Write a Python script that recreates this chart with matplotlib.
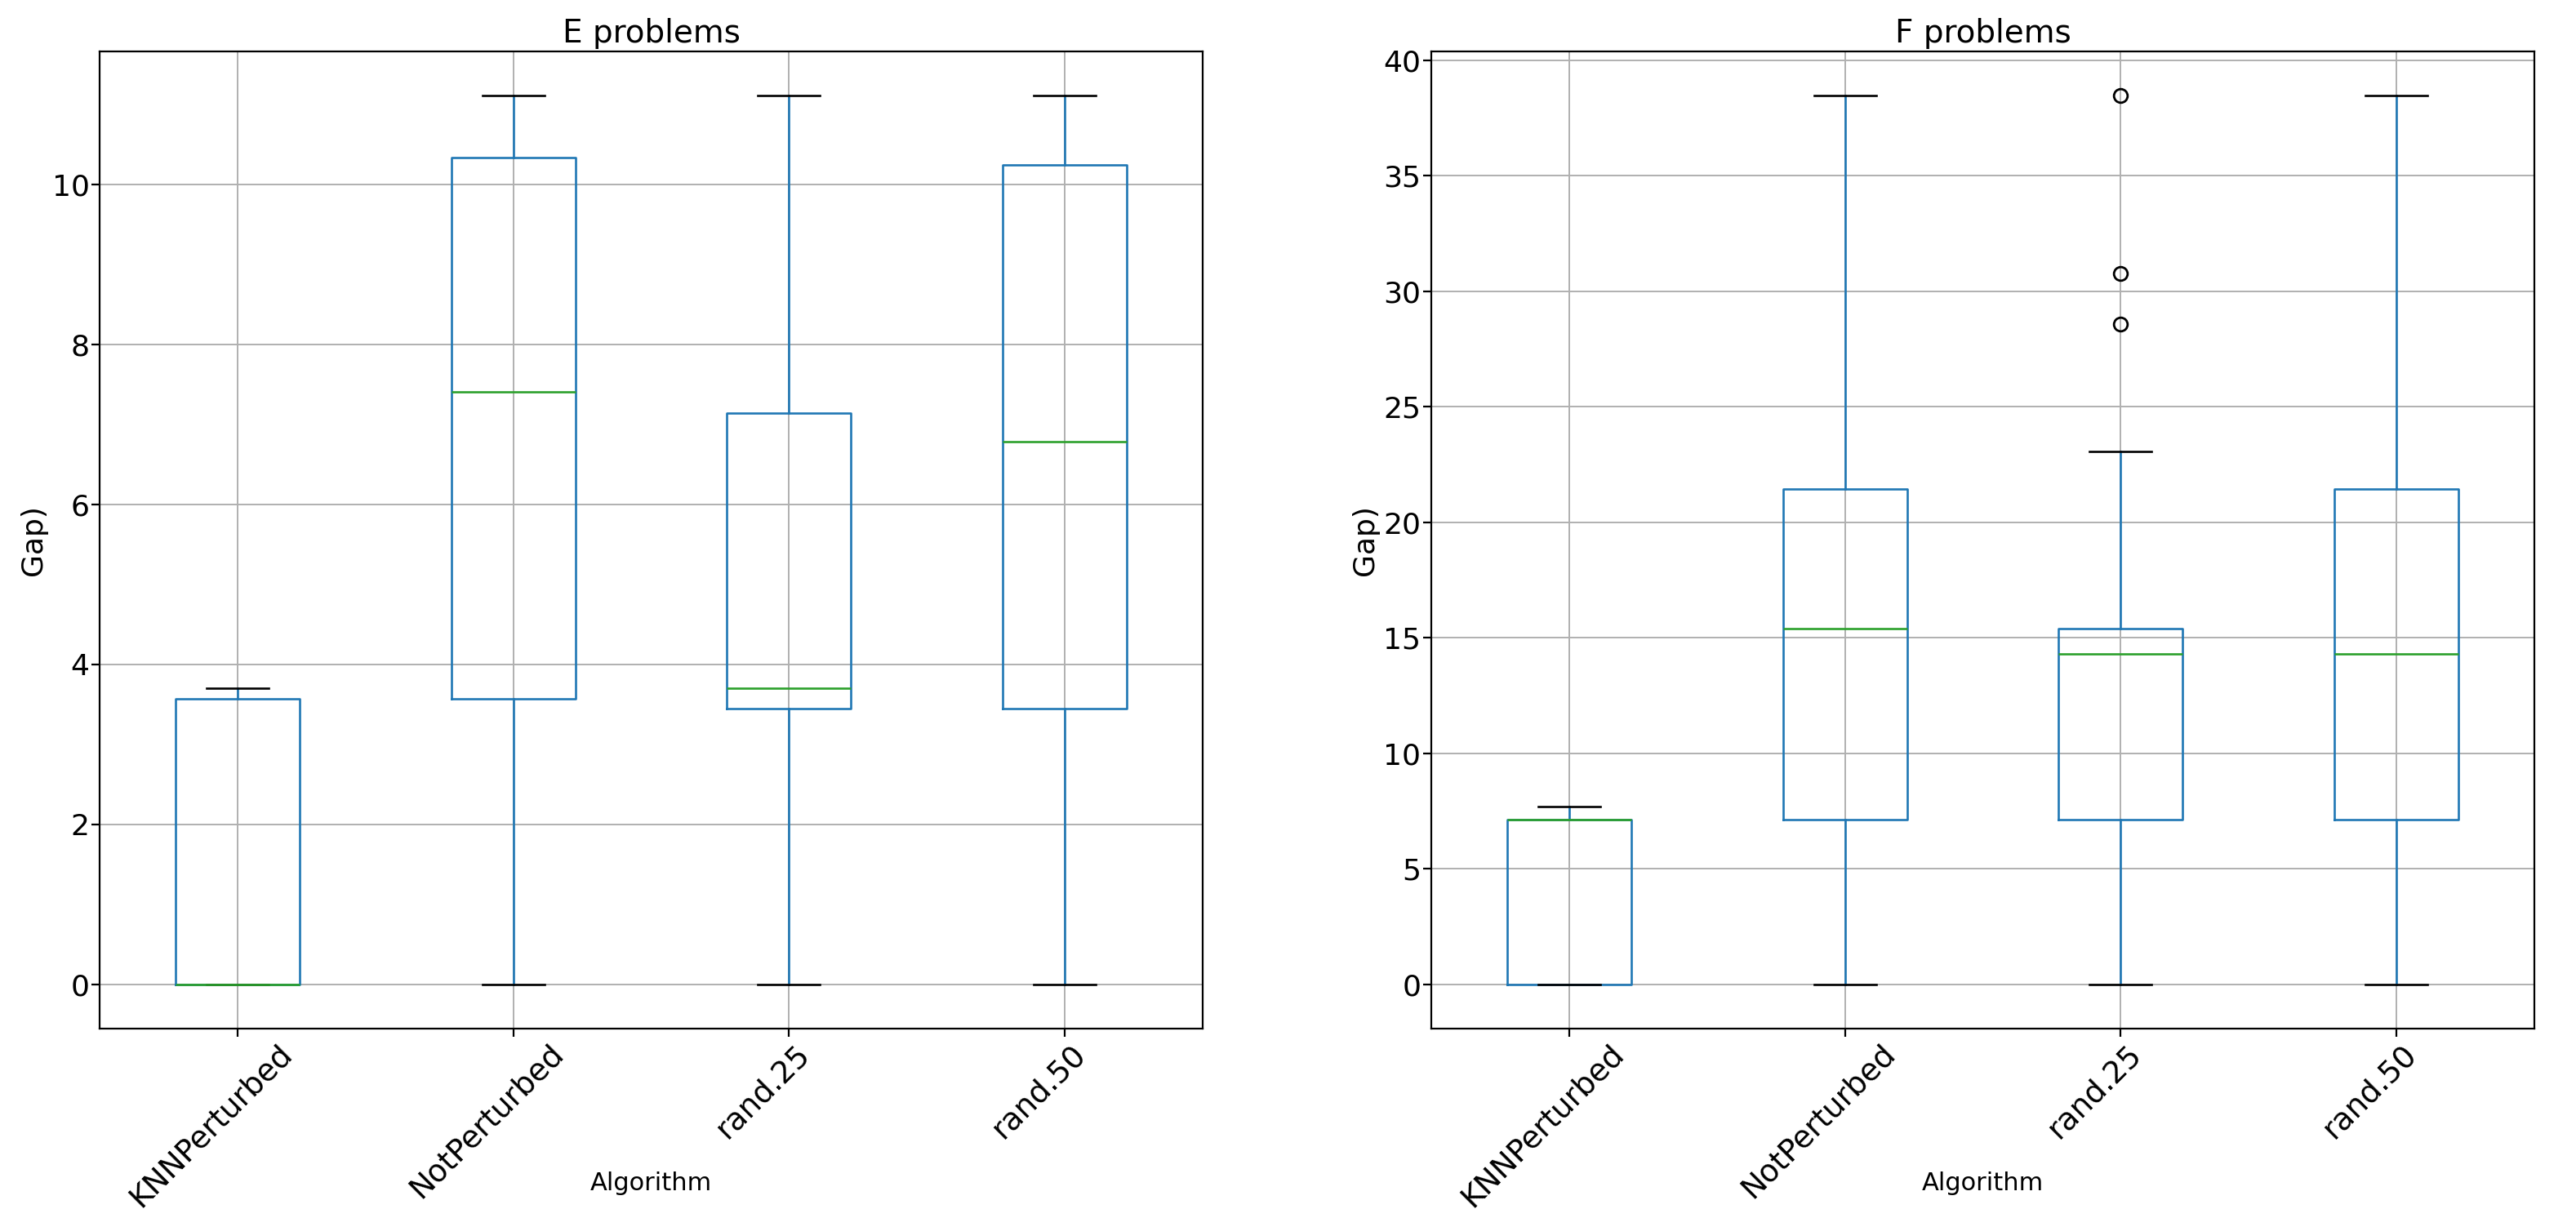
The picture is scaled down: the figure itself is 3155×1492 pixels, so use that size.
import matplotlib
matplotlib.use('Agg')
import matplotlib.pyplot as plt
from matplotlib.transforms import ScaledTranslation

# valores (gap por algoritmo)
ALGORITHMS = ['KNNPerturbed', 'NotPerturbed', 'rand.25', 'rand.50']

E_WHISLO = [0.0, 0.0, 0.0, 0.0]
E_Q1 = [0.0, 3.57, 3.45, 3.45]
E_MED = [0.0, 7.41, 3.70, 6.78]
E_Q3 = [3.57, 10.34, 7.14, 10.25]
E_WHISHI = [3.70, 11.11, 11.11, 11.11]
E_FLIERS = [[], [], [], []]

F_WHISLO = [0.0, 0.0, 0.0, 0.0]
F_Q1 = [0.0, 7.14, 7.14, 7.14]
F_MED = [7.14, 15.38, 14.29, 14.29]
F_Q3 = [7.14, 21.43, 15.38, 21.43]
F_WHISHI = [7.69, 38.46, 23.08, 38.46]
F_FLIERS = [[], [], [28.57, 30.77, 38.46], []]


def make_stats(lo, q1, med, q3, hi, fliers):
    return [dict(label=a, whislo=lo[i], q1=q1[i], med=med[i], q3=q3[i],
                 whishi=hi[i], fliers=fliers[i])
            for i, a in enumerate(ALGORITHMS)]


def draw(ax, stats, title):
    ax.bxp(stats, widths=0.45,
           boxprops=dict(color='#1f77b4', linewidth=0.95),
           whiskerprops=dict(color='#1f77b4', linewidth=0.95),
           capprops=dict(color='black', linewidth=0.95, zorder=2.1),
           medianprops=dict(color='#2ca02c', linewidth=0.95, zorder=2.2),
           flierprops=dict(marker='o', markerfacecolor='none',
                           markeredgecolor='black', markersize=6))
    ax.grid(True, color='#b0b0b0', linewidth=0.7)
    ax.set_title(title, fontsize=14, pad=4)
    ax.set_ylabel('Gap)', fontsize=13, labelpad=2)
    ax.set_xlabel('Algorithm', fontsize=11)
    ax.xaxis.set_label_coords(0.5, -0.146)
    ax.tick_params(axis='y', labelsize=13, pad=1)
    ax.tick_params(axis='x', labelsize=13.5, pad=1)
    shift = ScaledTranslation(-0.16, 0, fig.dpi_scale_trans)
    for lab in ax.get_xticklabels():
        lab.set_rotation(45)
        lab.set_ha('center')
        lab.set_transform(lab.get_transform() + shift)


fig = plt.figure(figsize=(15.775, 7.46), dpi=200)
ax1 = fig.add_axes([0.0387, 0.1555, 0.4282, 0.8023])
ax2 = fig.add_axes([0.5556, 0.1555, 0.4282, 0.8023])

draw(ax1, make_stats(E_WHISLO, E_Q1, E_MED, E_Q3, E_WHISHI, E_FLIERS), 'E problems')
draw(ax2, make_stats(F_WHISLO, F_Q1, F_MED, F_Q3, F_WHISHI, F_FLIERS), 'F problems')

fig.savefig('out.png', dpi=200)
